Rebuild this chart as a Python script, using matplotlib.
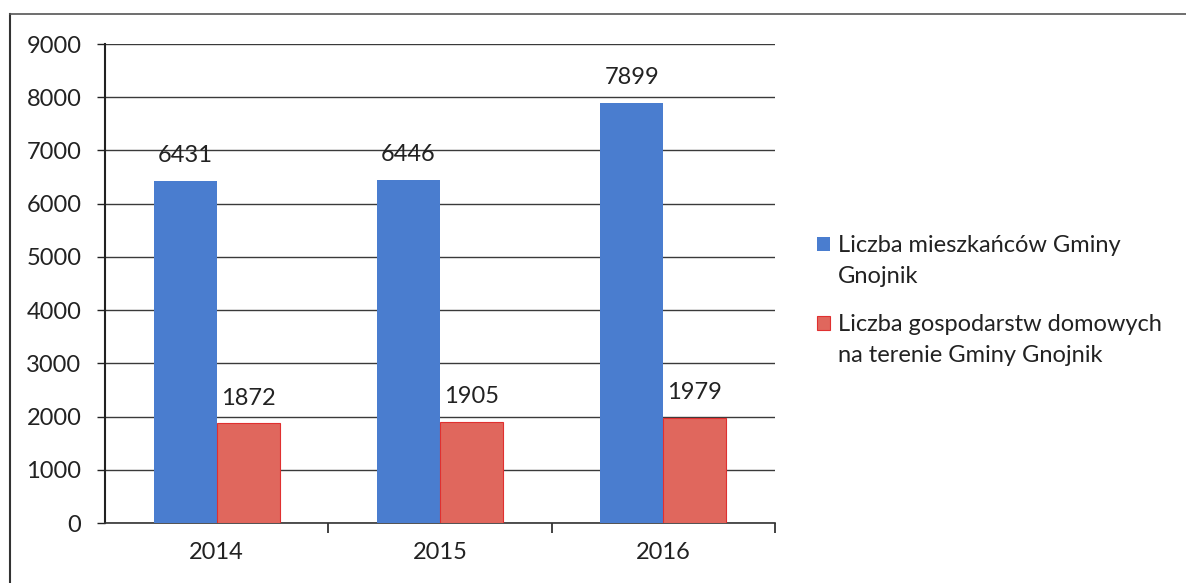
import numpy as np
import matplotlib
matplotlib.use("Agg")
import matplotlib.pyplot as plt
from matplotlib.lines import Line2D
from matplotlib.patches import Rectangle

plt.rcParams['font.family'] = ['Lato', 'DejaVu Sans']

years = ['2014', '2015', '2016']
mieszkancy = [6431, 6446, 7899]
gospodarstwa = [1872, 1905, 1979]
labels = ['Liczba mieszkańców Gminy\nGnojnik',
          'Liczba gospodarstw domowych\nna terenie Gminy Gnojnik']

blue = '#4a7dcf'
red = '#e0675d'

W, H = 1186, 583
fig = plt.figure(figsize=(W/100, H/100), dpi=100)
ax = fig.add_axes([0.0885, 0.1029, 0.5650, 0.8216])

x = np.arange(len(years))
w = 0.282
b1 = ax.bar(x - w/2, mieszkancy, w, color=blue, zorder=3)
b2 = ax.bar(x + w/2, gospodarstwa, w, color=red, edgecolor='#e03030',
            linewidth=0.8, zorder=3)

for bars, vals in ((b1, mieszkancy), (b2, gospodarstwa)):
    for r, v in zip(bars, vals):
        ax.text(r.get_x() + r.get_width()/2, v + 470, str(v), ha='center',
                va='center', fontsize=17, color='#222222', zorder=4)

ax.set_xlim(-0.5, 2.5)
ax.set_ylim(0, 9000)
ax.set_yticks(np.arange(0, 9001, 1000))
ax.yaxis.grid(True, color='#3a3a3a', linewidth=1.0)
ax.set_axisbelow(True)

ax.set_xticks(x)
ax.set_xticklabels(years)
ax.set_xticks([0.5, 1.5, 2.5], minor=True)
ax.tick_params(axis='x', which='major', length=0, pad=14, labelsize=17,
               colors='#222222')
ax.tick_params(axis='x', which='minor', length=7, width=1.2, direction='out',
               color='#222222')
ax.tick_params(axis='y', length=6, width=1.0, pad=11, labelsize=17,
               colors='#222222')

for s in ('top', 'right'):
    ax.spines[s].set_visible(False)
ax.spines['left'].set_color('#222222')
ax.spines['left'].set_linewidth(1.5)
ax.spines['bottom'].set_color('#333333')
ax.spines['bottom'].set_linewidth(1.2)

# legend drawn by hand (pixel layout of the original)
leg_rows = [(blue, 'none', 244, 261), (red, '#e03030', 323, 340)]
for (fc, ec, ysq, ytxt), lab in zip(leg_rows, labels):
    fig.add_artist(Rectangle((817/W, 1 - (ysq + 7)/H), 13/W, 14/H,
                             facecolor=fc, edgecolor=ec, linewidth=0.8,
                             transform=fig.transFigure))
    fig.text(838/W, 1 - ytxt/H, lab, ha='left', va='center', fontsize=17,
             color='#222222', linespacing=1.6)

# outer frame of the scanned chart
fig.add_artist(Line2D([10/W, 10/W], [0, 1 - 14/H], color='#333333',
                      linewidth=1.5, transform=fig.transFigure))
fig.add_artist(Line2D([10/W, 1], [1 - 14/H, 1 - 14/H], color='#555555',
                      linewidth=1.2, transform=fig.transFigure))

fig.savefig('out.png', dpi=100)
